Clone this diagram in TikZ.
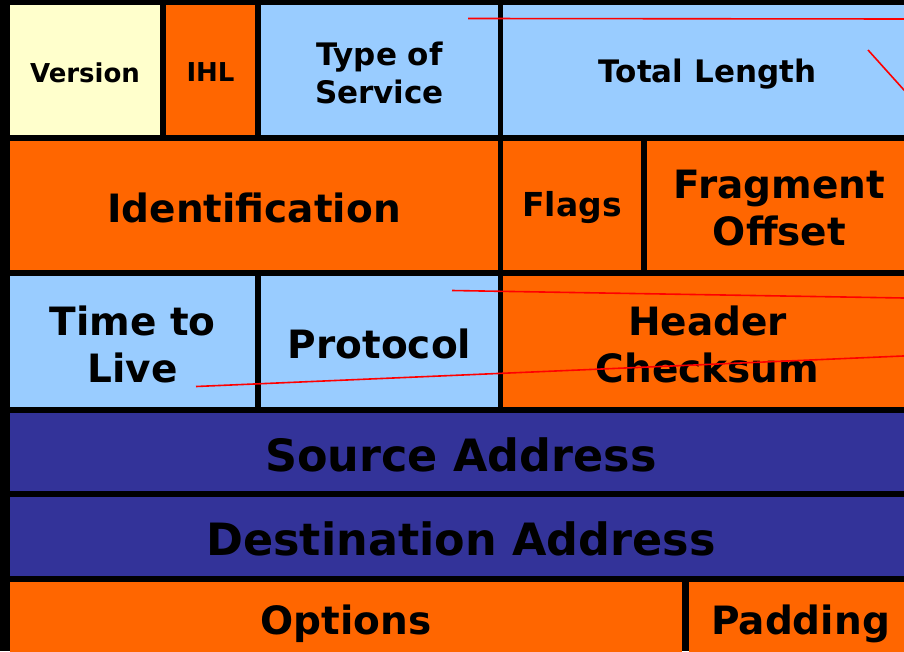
\documentclass[tikz,border=0pt]{standalone}
\usepackage{fontspec}
\setmainfont{DejaVu Sans}
\definecolor{cyellow}{HTML}{FFFFCC}
\definecolor{corange}{HTML}{FF6600}
\definecolor{cblue}{HTML}{99CCFF}
\definecolor{cdark}{HTML}{333399}
\definecolor{cred}{HTML}{FF0000}
\begin{document}
\begin{tikzpicture}[x=1pt,y=-1pt,
  cell/.style={inner sep=0pt, outer sep=0pt},
  lbl/.style={inner sep=0pt, outer sep=0pt, align=center, text=black, yshift=-2.5pt},
  fa/.style={font=\bfseries\fontsize{26}{31}\selectfont},
  fb/.style={font=\bfseries\fontsize{31}{38}\selectfont},
  fc/.style={font=\bfseries\fontsize{33}{40}\selectfont},
  fd/.style={font=\bfseries\fontsize{39}{47}\selectfont},
  fe/.style={font=\bfseries\fontsize{44.5}{52}\selectfont},
  mark line/.style={draw=cred, line width=1.6pt}]
\useasboundingbox (0,0) rectangle (904,651);
\clip (0,0) rectangle (904,651);
\fill[black] (0,0) rectangle (904,651);
% row 1
\node[cell, fill=cyellow, minimum width=150pt, minimum height=130pt] (version) at (85,70) {};
\node[cell, fill=corange, minimum width=89pt, minimum height=130pt] (ihl) at (210.5,70) {};
\node[cell, fill=cblue, minimum width=237pt, minimum height=130pt] (tos) at (379.5,70) {};
\node[cell, fill=cblue, minimum width=409pt, minimum height=130pt] (tlen) at (707.5,70) {};
% row 2
\node[cell, fill=corange, minimum width=488pt, minimum height=129pt] (ident) at (254,205.5) {};
\node[cell, fill=corange, minimum width=138pt, minimum height=129pt] (flags) at (572,205.5) {};
\node[cell, fill=corange, minimum width=265pt, minimum height=129pt] (frag) at (779.5,205.5) {};
% row 3
\node[cell, fill=cblue, minimum width=245pt, minimum height=131pt] (ttl) at (132.5,341.5) {};
\node[cell, fill=cblue, minimum width=237pt, minimum height=131pt] (proto) at (379.5,341.5) {};
\node[cell, fill=corange, minimum width=409pt, minimum height=131pt] (hcs) at (707.5,341.5) {};
% rows 4-5
\node[cell, fill=cdark, minimum width=902pt, minimum height=78pt] (src) at (461,452) {};
\node[cell, fill=cdark, minimum width=902pt, minimum height=79pt] (dst) at (461,536.5) {};
% row 6
\node[cell, fill=corange, minimum width=672pt, minimum height=78pt] (opt) at (346,621) {};
\node[cell, fill=corange, minimum width=223pt, minimum height=78pt] (pad) at (800.5,621) {};
% labels
\node[lbl, fa] (versiont) at (version.center) {Version};
\node[lbl, fa] (ihlt) at (ihl.center) {IHL};
\node[lbl, fb] (tost) at (tos.center) {Type of\\Service};
\node[lbl, fb, yshift=-2pt] (tlent) at (tlen.center) {Total Length};
\node[lbl, fd] (identt) at (ident.center) {Identification};
\node[lbl, fc] (flagst) at (flags.center) {Flags};
\node[lbl, fd] (fragt) at (frag.center) {Fragment\\Offset};
\node[lbl, fd] (ttlt) at (ttl.center) {Time to\\Live};
\node[lbl, fd] (protot) at (proto.center) {Protocol};
\node[lbl, fd] (hcst) at (hcs.center) {Header\\Checksum};
\node[lbl, fe] (srct) at (src.center) {Source Address};
\node[lbl, fe] (dstt) at (dst.center) {Destination Address};
\node[lbl, fd] (optt) at (opt.center) {Options};
\node[lbl, fd] (padt) at (pad.center) {Padding};
% red annotation strokes
\draw[mark line] (468,18.5) -- (910,19);
\draw[mark line] (868,50) -- (910,96.7);
\draw[mark line] (452,290.5) -- (910,298.1);
\draw[mark line] (196,386.5) -- (910,355.7);
\end{tikzpicture}
\end{document}
